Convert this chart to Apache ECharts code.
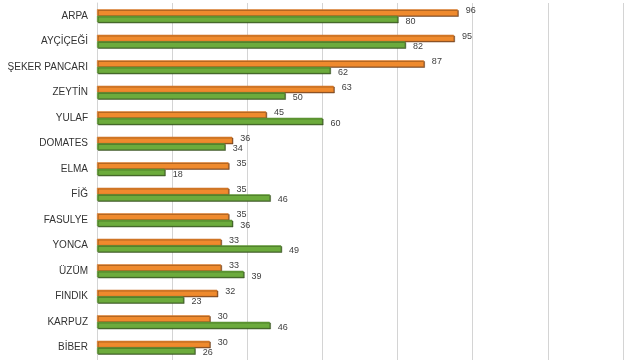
<!DOCTYPE html>
<html><head><meta charset="utf-8">
<script src="https://cdn.jsdelivr.net/npm/echarts@6/dist/echarts.min.js"></script>
<style>html,body{margin:0;padding:0;background:#fff}#c{width:640px;height:360px}</style>
</head><body><div id="c"></div>
<script>
const categories = ["ARPA","AYÇİÇEĞİ","ŞEKER PANCARI","ZEYTİN","YULAF","DOMATES","ELMA","FİĞ","FASULYE","YONCA","ÜZÜM","FINDIK","KARPUZ","BİBER"];
const seriesA = [96,95,87,63,45,36,35,35,35,33,33,32,30,30];
const seriesB = [80,82,62,50,60,34,18,46,36,49,39,23,46,26];
const xTicks = {min:0, max:140, interval:20};

const chart = echarts.init(document.getElementById('c'), null, {renderer:'canvas'});
chart.setOption({
  animation:false,
  grid:{left:97, right:17, top:3, bottom:-4, containLabel:false},
  xAxis:{type:'value', min:xTicks.min, max:xTicks.max, interval:xTicks.interval,
    axisLabel:{show:false}, axisLine:{show:false}, axisTick:{show:false},
    splitLine:{show:true, lineStyle:{color:'#d4d4d4', width:1}}},
  yAxis:{type:'category', data:categories, inverse:true,
    axisLine:{show:true, lineStyle:{color:'#d4d4d4'}}, axisTick:{show:false},
    axisLabel:{color:'#333', fontSize:10, fontFamily:'Liberation Sans, Arial, sans-serif', margin:9}},
  series:[
    {type:'bar', data:seriesA, barWidth:6.5, barGap:'0%',
      itemStyle:{color:'#ef8a2d', borderColor:'#c86e24', borderWidth:0.5,
        shadowColor:'rgba(110,60,20,0.9)', shadowOffsetX:1, shadowOffsetY:1, shadowBlur:0},
      label:{show:true, position:'right', distance:8, offset:[0,-1.5], color:'#404040', fontSize:9, fontFamily:'Liberation Sans, Arial, sans-serif'}},
    {type:'bar', data:seriesB, barWidth:6.5,
      itemStyle:{color:'#6cab3c', borderColor:'#558a2e', borderWidth:0.5,
        shadowColor:'rgba(50,80,25,0.9)', shadowOffsetX:1, shadowOffsetY:1, shadowBlur:0},
      label:{show:true, position:'right', distance:8, offset:[0,2.5], color:'#404040', fontSize:9, fontFamily:'Liberation Sans, Arial, sans-serif'}}
  ]
});
</script></body></html>
